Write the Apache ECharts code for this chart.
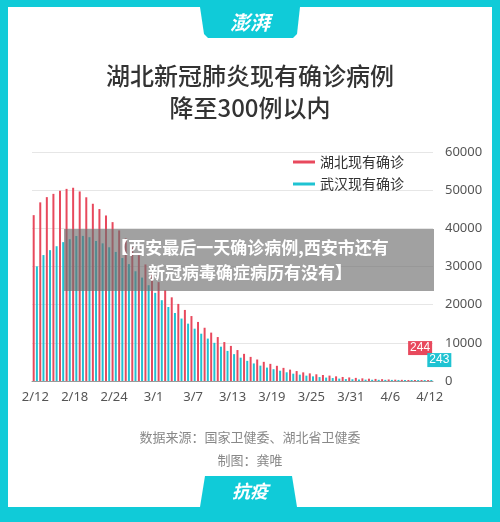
<!DOCTYPE html>
<html><head><meta charset="utf-8">
<script src="https://cdn.jsdelivr.net/npm/echarts@6/dist/echarts.min.js"></script>
<style>html,body{margin:0;padding:0;background:#fff}#c{width:500px;height:522px}</style>
</head><body><div id="c"></div>
<script>
const dates=[];
(function(){const mm=[[2,12,29],[3,1,31],[4,1,12]];for(const [m,s,e] of mm)for(let d=s;d<=e;d++)dates.push(m+'/'+d);})();
const hubei=[43455,46806,48175,49030,49847,50338,50633,49665,48136,46439,45054,43369,41625,39447,37374,35006,32959,30543,
28216,25905,23784,21925,20198,18619,17017,15473,13950,12679,11514,10204,9195,8108,7114,6317,5636,5017,4492,3979,3441,2982,2606,2264,1999,1754,1579,1417,1222,1058,935,
818,692,605,546,477,403,344,307,272,253,248,244];
const wuhan=[30043,32994,34289,35314,36385,37152,37994,38020,37681,36680,36066,35042,33814,32218,30627,28753,27099,25101,
23098,21170,19383,17823,16359,15025,13709,12395,11112,10007,8990,7882,7037,6113,5278,4601,4024,3509,3096,2696,2284,1919,1658,1404,1215,1027,893,775,628,510,457,
394,352,324,310,298,285,272,262,255,250,246,243];
const yTicks=[0,10000,20000,30000,40000,50000,60000];
const RED='#e8495d',TEAL='#1fc3d2',FRAME='#10cbd8';
const chart=echarts.init(document.getElementById('c'));
const last=dates.length-1;
function lbl(arr,color,off){return arr.map((v,i)=>i===last?{value:v,label:{show:true,position:'top',offset:off,color:'#fff',backgroundColor:color,padding:[1,2],fontSize:12,formatter:'{c}'}}:v);}
function ctext(y,text,font,fill,lh,z){return {type:'text',x:250,y:y,z:z||1,style:{text:text,fill:fill,font:font,align:'center',textAlign:'center',lineHeight:lh}};}
chart.setOption({
 animation:false,
 graphic:[
  {type:'rect',shape:{x:0,y:0,width:500,height:522},style:{fill:FRAME},z:-10},
  {type:'rect',shape:{x:8,y:7,width:484,height:500},style:{fill:'#fff'},z:-9},
  {type:'polygon',shape:{points:[[200,7],[300,7],[297,34],[293,38],[208,38],[204,34]]},style:{fill:FRAME},z:-8},
  ctext(10,'澎湃','italic bold 20px "Noto Sans CJK SC"','#fff',24),
  {type:'polygon',shape:{points:[[205,476],[292,476],[297,507],[200,507]]},style:{fill:FRAME},z:-8},
  ctext(479,'抗疫','italic bold 18px "Noto Sans CJK SC"','#fff',24),
  ctext(60,'湖北新冠肺炎现有确诊病例\n降至300例以内','500 24px "Noto Sans CJK SC"','#333',32),
  ctext(426,'数据来源：国家卫健委、湖北省卫健委\n制图：龚唯','13px "Noto Sans CJK SC"','#888',23),
  {type:'rect',shape:{x:64,y:229,width:370,height:62},style:{fill:'rgba(110,110,110,0.65)'},z:100},
  ctext(235,'【西安最后一天确诊病例,西安市还有\n新冠病毒确症病历有没有】','bold 17px "Noto Sans CJK SC"','#fff',25,101)
 ],
 legend:{left:288,top:150,orient:'vertical',itemGap:8,icon:'rect',itemWidth:22,itemHeight:3,textStyle:{fontSize:14,color:'#333',fontFamily:'Noto Sans CJK SC'},data:['湖北现有确诊','武汉现有确诊']},
 grid:{left:32,right:67,top:152,bottom:141},
 xAxis:{type:'category',data:dates,axisTick:{show:false},axisLine:{lineStyle:{color:'#999'}},
  axisLabel:{interval:5,color:'#555',fontSize:13,margin:10,fontFamily:'Noto Sans'}},
 yAxis:{type:'value',position:'right',min:0,max:60000,interval:10000,
  axisLabel:{color:'#555',fontSize:13,margin:12,fontFamily:'Noto Sans',formatter:v=>yTicks.includes(v)?String(v):''},
  splitLine:{lineStyle:{color:'#e6e6e6'}},axisLine:{show:false},axisTick:{show:false}},
 series:[
  {name:'湖北现有确诊',type:'bar',data:lbl(hubei,RED,[-8,-20]),itemStyle:{color:RED},barWidth:2,barGap:'60%'},
  {name:'武汉现有确诊',type:'bar',data:lbl(wuhan,TEAL,[8,-8]),itemStyle:{color:TEAL},barWidth:2}
 ]
});
</script></body></html>
